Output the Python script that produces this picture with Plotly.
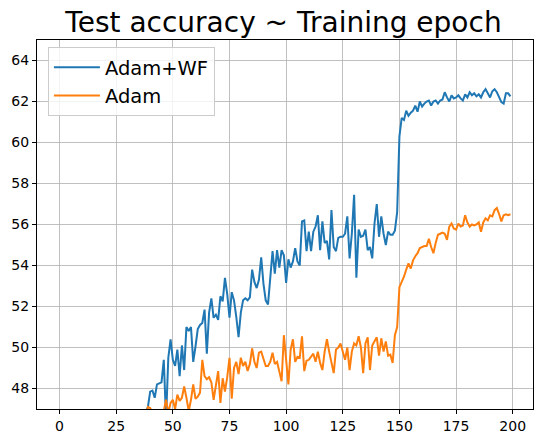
import plotly.graph_objects as go

# Test accuracy (%) per epoch, epochs 0..199 (values below 47 are off the visible axis)
adam_wf = [
    10.2, 18.5, 23.1, 26.4, 28.9, 30.7, 32.0, 33.4, 34.1, 35.2,
    35.9, 36.8, 37.3, 38.0, 38.6, 39.1, 39.8, 40.2, 40.9, 41.3,
    41.6, 42.2, 42.5, 43.0, 43.3, 43.6, 44.1, 44.3, 44.6, 44.9,
    45.2, 45.4, 45.7, 45.9, 46.1, 46.3, 46.5, 46.7, 46.8, 47.1,
    47.85, 47.9, 47.55, 48.2, 48.25, 48.3, 49.4, 46.5, 49.5, 50.4,
    49.4, 49.1, 49.9, 48.6, 50.1, 48.9, 51.0, 50.8, 51.0, 49.3,
    50.05, 50.9, 51.1, 51.2, 51.85, 49.7, 51.7, 52.4, 51.45, 51.6,
    51.35, 52.5, 52.25, 53.4, 52.6, 51.45, 52.7, 52.3, 51.5, 50.5,
    51.7, 52.3, 52.4, 52.3, 52.45, 53.8, 53.2, 52.9, 53.3, 54.4,
    53.1, 52.3, 52.1, 53.3, 54.7, 53.6, 54.75, 53.9, 54.75, 54.5,
    53.15, 54.3, 53.9, 54.2, 54.85, 54.2, 54.0, 56.15, 56.2, 54.7,
    55.65, 54.7, 55.65, 55.9, 56.45, 54.75, 56.15, 55.1, 55.2, 54.3,
    56.7, 54.9, 54.7, 55.35, 55.4, 55.4, 55.55, 56.4, 54.35, 55.55,
    57.45, 53.4, 55.75, 55.4, 55.45, 55.75, 54.75, 54.9, 54.35, 56.05,
    57.0, 55.4, 56.4, 55.55, 55.0, 55.65, 55.5, 55.5, 55.7, 56.6,
    60.3, 61.2, 61.1, 61.55, 61.3, 61.45, 61.55, 61.8, 61.5, 62.0,
    61.75, 61.9, 62.0, 62.05, 61.8, 62.0, 62.05, 61.9, 62.05, 62.1,
    62.45, 62.2, 62.0, 62.3, 62.15, 62.2, 62.3, 62.15, 62.05, 62.35,
    62.2, 62.45, 62.3, 62.4, 62.25, 62.35, 62.2, 62.45, 62.6, 62.4,
    62.2, 62.5, 62.6, 62.45, 62.2, 61.97, 61.9, 62.4, 62.4, 62.25,
]

adam = [
    9.8, 15.2, 19.7, 22.4, 24.8, 26.9, 28.3, 29.8, 31.0, 32.1,
    33.0, 33.9, 34.7, 35.4, 36.1, 36.8, 37.3, 37.9, 38.5, 39.0,
    39.6, 40.1, 40.5, 41.0, 41.4, 41.9, 42.3, 42.7, 43.1, 43.5,
    43.8, 44.2, 44.5, 44.9, 45.2, 45.6, 45.9, 46.2, 46.5, 47.1,
    47.05, 46.8, 46.6, 46.9, 46.7, 46.5, 46.9, 47.45, 46.8, 47.3,
    47.45, 47.0, 47.7, 47.4, 47.55, 48.1, 47.55, 46.9, 47.45, 48.2,
    47.5, 47.6, 47.8, 49.4, 48.6, 48.45, 48.55, 48.3, 47.45, 48.1,
    48.85, 47.3, 48.5, 47.85, 48.55, 49.5, 47.5, 49.0, 49.3, 48.7,
    49.5, 49.1, 49.3, 48.85, 49.2, 49.95, 49.3, 49.0, 49.75, 49.8,
    49.45, 49.1, 49.1, 49.3, 49.75, 49.2, 49.3, 48.85, 48.35, 50.6,
    49.55, 48.2, 49.9, 50.4, 49.3, 49.55, 49.5, 50.55, 48.85, 49.35,
    49.4, 49.55, 49.7, 49.3, 49.8, 49.25, 48.9, 49.8, 50.4, 49.8,
    49.25, 48.75, 49.9, 50.0, 50.2, 49.8, 49.4, 50.0, 48.9, 49.8,
    50.2, 50.1, 50.55, 50.0, 48.75, 50.2, 50.5, 48.9, 50.1, 50.3,
    50.5, 49.6, 50.45, 49.8, 50.3, 49.6, 49.65, 49.25, 50.6, 51.0,
    52.95, 53.2, 53.45, 53.8, 54.1, 53.85, 54.25, 54.45, 54.6, 54.85,
    54.9, 54.95, 54.95, 55.3, 54.9, 54.6, 55.1, 55.5, 55.55, 55.6,
    55.55, 55.25, 55.9, 56.05, 55.8, 55.75, 56.05, 55.9, 55.95, 56.45,
    56.1, 55.9, 56.0, 55.95, 56.0, 56.1, 55.65, 56.1, 56.3, 56.2,
    56.45, 56.4, 56.7, 56.8, 56.5, 56.15, 56.45, 56.5, 56.45, 56.5,
]

epochs = list(range(len(adam_wf)))
x_ticks = [0, 25, 50, 75, 100, 125, 150, 175, 200]
y_ticks = [48, 50, 52, 54, 56, 58, 60, 62, 64]

FONT = "DejaVu Sans"
W, H = 543, 443

fig = go.Figure()
fig.add_trace(go.Scatter(x=epochs, y=adam_wf, mode="lines", name="Adam+WF",
                         line=dict(color="#1f77b4", width=2)))
fig.add_trace(go.Scatter(x=list(range(len(adam))), y=adam, mode="lines", name="Adam",
                         line=dict(color="#ff7f0e", width=2)))

axis_common = dict(
    showline=True, mirror=True, linecolor="black", linewidth=1,
    ticks="outside", ticklen=4, tickwidth=1, tickcolor="black",
    showgrid=True, gridcolor="#b0b0b0", gridwidth=0.8,
    zeroline=False, automargin=False,
    tickfont=dict(family=FONT, size=14, color="black"),
)

fig.update_layout(
    width=W, height=H,
    margin=dict(l=37, r=10, t=40, b=34, autoexpand=False),
    paper_bgcolor="white", plot_bgcolor="white",
    title=dict(text="Test accuracy ~ Training epoch",
               font=dict(family=FONT, size=28, color="black"),
               x=283.5 / W, xanchor="center", y=1 - 22 / H, yanchor="middle",
               xref="container", yref="container"),
    xaxis=dict(range=[-9.95, 208.95], tickvals=x_ticks, **axis_common),
    yaxis=dict(range=[47, 65], tickvals=y_ticks, **axis_common),
    legend=dict(x=0.022, y=0.981, xanchor="left", yanchor="top",
                bgcolor="rgba(255,255,255,0.8)", bordercolor="#cccccc", borderwidth=1,
                font=dict(family=FONT, size=19.5, color="black"),
                itemwidth=46),
    showlegend=True,
)

fig.write_html(
    "out.html",
    config={"displayModeBar": False, "staticPlot": True},
    post_script="document.body.style.margin='0';document.body.style.overflow='hidden';",
)
